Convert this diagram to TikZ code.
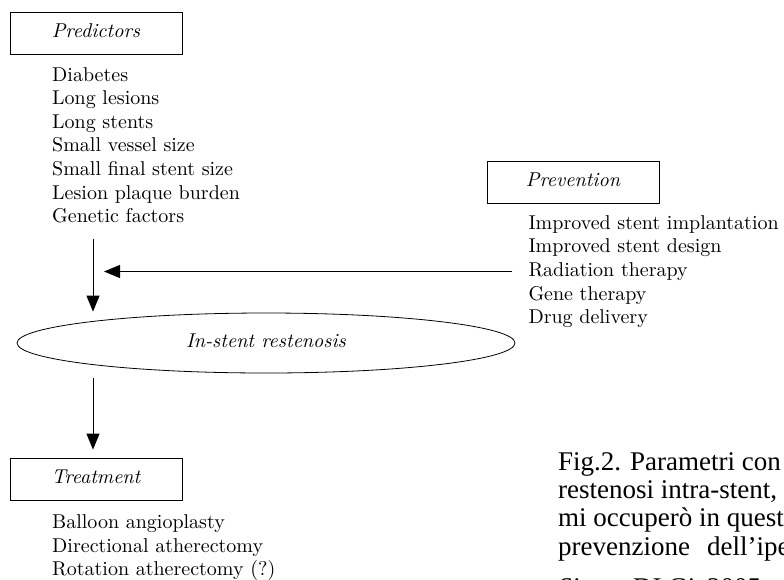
\documentclass[tikz,border=0pt]{standalone}
\usepackage{fontspec}
\setmainfont{lmroman10}[Extension=.otf, UprightFont=*-regular, ItalicFont=*-italic, BoldFont=*-bold]
\newfontfamily\capfont{Liberation Serif}
\usetikzlibrary{arrows.meta,shapes.geometric}
\begin{document}
\begin{tikzpicture}[x=1pt,y=-1pt,
  item/.style={anchor=base west, inner sep=0pt, font=\fontsize{20}{24}\selectfont},
  box/.style={draw, line width=0.9pt, minimum width=172pt, minimum height=42pt, inner sep=0pt,
    text height=10pt, text depth=2pt, font=\fontsize{20}{24}\selectfont\itshape},
  arr/.style={line width=0.9pt, -{Triangle[length=16pt,width=13pt]}},
  captxt/.style={anchor=base west, inner sep=0pt, font=\capfont\fontsize{27}{28.4}\selectfont}]
\useasboundingbox (0,0) rectangle (784,579);
\clip (0,0) rectangle (784,579);

% boxes
\node[box] (pred) at (96,33) {Predictors};
\node[box] (prev) at (573,182) {Prevention};
\node[box] (treat) at (96,479.5) {Treatment};
\node[draw, ellipse, line width=0.8pt, minimum width=498pt, minimum height=60pt, inner sep=0pt,
  text height=10pt, text depth=2pt, font=\fontsize{20}{24}\selectfont\itshape] (isr) at (266,343) {In-stent restenosis};

% lists
\foreach \t [count=\i] in {Diabetes, Long lesions, Long stents, Small vessel size, Small final stent size, Lesion plaque burden, Genetic factors}
  \node[item] (p\i) at (52, {81+23.65*(\i-1)}) {\t};
\foreach \t [count=\i] in {Improved stent implantation, Improved stent design, Radiation therapy, Gene therapy, Drug delivery}
  \node[item] (r\i) at (528.3, {229+23.7*(\i-1)}) {\t};
\foreach \t [count=\i] in {Balloon angioplasty, Directional atherectomy, Rotation atherectomy (?)}
  \node[item] (t\i) at (52, {528.5+23.7*(\i-1)}) {\t};

% connectors
\coordinate (jx) at (93,271.5);
\draw[arr, shorten <=15pt, shorten >=1pt] (p7.south -| jx) -- (jx |- isr.north);
\draw[arr, shorten <=16pt, shorten >=11pt] (r3.west |- jx) -- (jx);
\draw[arr, shorten <=5pt, shorten >=8.5pt] (jx |- isr.south) -- (jx |- treat.north);

% caption (cut by the picture edge)
\node[captxt] (c1) at (558,470) {Fig.2. Parametri con cui si valuta la};
\node[captxt] (c2) at (558,498.4) {restenosi intra-stent, in particolare};
\node[captxt] (c3) at (558,526.8) {mi occuperò in questa tesi};
\node[captxt] (c4) at (558,555.2) {prevenzione\hspace{17pt}dell’iperplasia};
\node[captxt] (c5a) at (558,596) {\textit{Simon},};
\node[captxt] (c5b) at (633,596) {DI Gi};
\node[captxt] (c5c) at (707,596) {2005};
\end{tikzpicture}
\end{document}
